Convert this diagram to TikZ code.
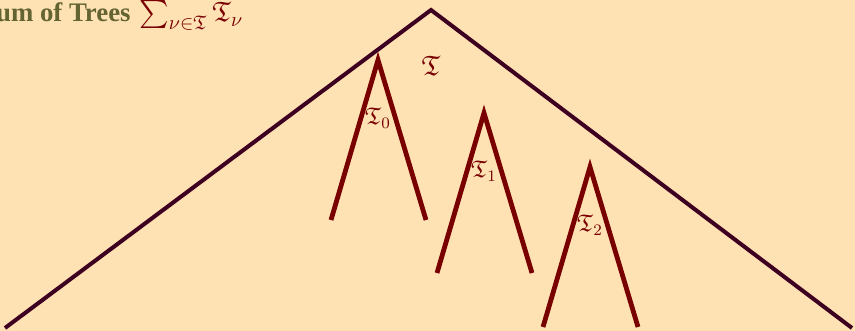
\documentclass[tikz,border=0pt]{standalone}
\usepackage{amsmath,amssymb}
\usepackage{fontspec}
\setmainfont{Liberation Serif}
\usepackage{tikz}
\usetikzlibrary{positioning}

\definecolor{bgpeach}{RGB}{255,226,180}
\definecolor{titleolive}{RGB}{100,100,50}
\definecolor{treered}{RGB}{120,0,0}
\definecolor{bigplum}{RGB}{62,0,32}

\begin{document}
\begin{tikzpicture}[x=0.5pt, y=-0.5pt,
    bigtree/.style={draw=bigplum, line width=2pt, line join=miter},
    subtree/.style={draw=treered, line width=2.4pt, line join=miter},
    treelabel/.style={text=treered, font=\fontsize{12}{14}\selectfont, inner sep=0pt}]
    % Background and frame
    \fill[bgpeach] (0,0) rectangle (855,331);
    \useasboundingbox (0,0) rectangle (855,331);
    \clip (0,0) rectangle (855,331);

    % Title
    \node[anchor=base east, text=titleolive, font=\fontsize{13.4}{16}\selectfont\bfseries, inner sep=0pt] (title) at (131,22) {Sum of Trees};
    \node[anchor=base west, text=treered, font=\fontsize{14}{16}\selectfont, inner sep=0pt] (sumtrees) at (139,22) {$\sum_{\nu\in\mathfrak{T}}\mathfrak{T}_\nu$};

    % The whole tree
    \coordinate (top) at (431,10);
    \coordinate (leftfoot) at (5,328);
    \coordinate (rightfoot) at (852,328);
    \draw[bigtree] (leftfoot) -- (top) -- (rightfoot);
    \node[treelabel, font=\fontsize{14}{16}\selectfont] (bigT) at (431,66) {$\mathfrak{T}$};

    % Subtrees
    \foreach \i/\ax/\ay in {0/378/60, 1/484/113, 2/590/167} {
        \coordinate (apex\i) at (\ax,\ay);
        \coordinate (lf\i) at (\ax-47,\ay+160);
        \coordinate (rf\i) at (\ax+48,\ay+160);
        \draw[subtree] (lf\i) -- (apex\i) -- (rf\i);
        \node[treelabel] (sub\i) at (\ax,\ay+58) {$\mathfrak{T}_{\i}$};
    }
\end{tikzpicture}
\end{document}
